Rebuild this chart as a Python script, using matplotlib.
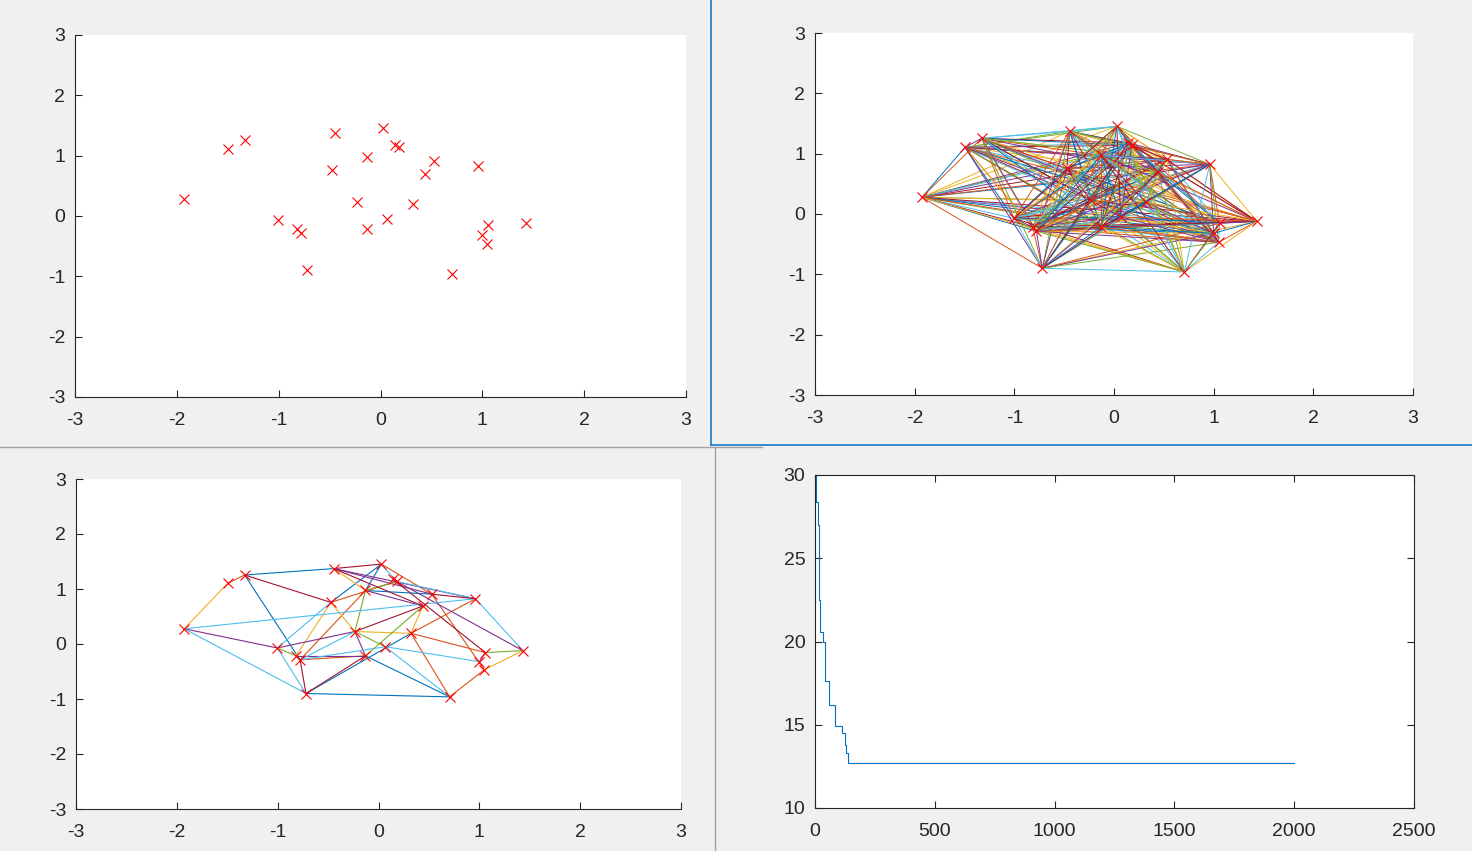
import numpy as np
import matplotlib
matplotlib.use('Agg')
import matplotlib.pyplot as plt
from matplotlib.lines import Line2D

# city coordinates
xs = [-1.927, -1.495, -1.328, -0.444, -0.473, -0.234, -1.004, -0.817, -0.778, -0.719,
      0.028, 0.145, 0.179, -0.129, 0.528, 0.440, 0.961, 0.322, 0.067, -0.129,
      1.059, 1.432, 1.000, 1.049, 0.705]
ys = [0.277, 1.105, 1.255, 1.371, 0.757, 0.227, -0.072, -0.215, -0.287, -0.900,
      1.453, 1.177, 1.138, 0.973, 0.906, 0.691, 0.823, 0.194, -0.050, -0.215,
      -0.155, -0.121, -0.320, -0.469, -0.961]

# kept edges of the reduced graph, one list per plotted group (1-based point ids)
edges_1 = [(3, 4), (3, 9), (11, 5), (14, 15), (10, 25), (20, 25), (10, 18), (11, 14)]
edges_2 = [(2, 3), (11, 15), (15, 24), (18, 25), (24, 25), (18, 21), (18, 17), (9, 20),
           (9, 14), (5, 13)]
edges_3 = [(1, 2), (4, 14), (5, 6), (5, 8), (6, 18), (16, 18), (22, 24)]
edges_4 = [(1, 7), (7, 6), (6, 20), (8, 20), (4, 15), (4, 17), (13, 22), (14, 16), (21, 23)]
edges_5 = [(7, 8), (6, 19), (14, 6), (20, 16), (21, 22), (14, 13)]
edges_6 = [(1, 17), (1, 10), (7, 10), (7, 5), (19, 23), (19, 25), (17, 22), (11, 13),
           (13, 17), (9, 6), (9, 19)]
edges_7 = [(3, 5), (9, 10), (10, 20), (6, 16), (4, 11), (15, 17), (12, 21), (4, 16)]

# best tour length per iteration (change points)
iter_pts = [0, 3, 13, 18, 21, 33, 40, 58, 83, 112, 127, 131, 138, 2000]
best_len = [30.0, 28.4, 27.0, 22.5, 20.6, 20.0, 17.6, 16.2, 14.9, 14.5, 13.8, 13.3, 12.7, 12.7]

MATLAB_COLORS = ['#0072BD', '#D95319', '#EDB120', '#7E2F8E', '#77AC30', '#4DBEEE', '#A2142F']
AX_COL = '#262626'

plt.rcParams['font.family'] = ['Liberation Sans', 'DejaVu Sans']
plt.rcParams['font.size'] = 14
plt.rcParams['axes.unicode_minus'] = False

W, H = 1472, 851
fig = plt.figure(figsize=(W / 100, H / 100), dpi=100, facecolor='#F0F0F0')


def px_axes(l, t, r, b):
    return fig.add_axes([l / W, 1 - b / H, (r - l) / W, (b - t) / H])


def style(ax, box=False):
    ax.set_facecolor('white')
    for s in ['left', 'bottom', 'top', 'right']:
        ax.spines[s].set_color(AX_COL)
        ax.spines[s].set_linewidth(0.8)
    if not box:
        ax.spines['top'].set_visible(False)
        ax.spines['right'].set_visible(False)
    ax.tick_params(direction='in', length=5, width=0.8, colors=AX_COL,
                   top=box, right=box, labelsize=14)
    ax.tick_params(axis='x', pad=11)
    ax.tick_params(axis='y', pad=7)


def city_axes(ax):
    ax.set_xlim(-3, 3)
    ax.set_ylim(-3, 3)
    ax.set_xticks(range(-3, 4))
    ax.set_yticks(range(-3, 4))
    style(ax)


def markers(ax):
    ax.plot(xs, ys, 'x', color='red', markersize=6.5, markeredgewidth=0.8, zorder=5)


# (1) cities
ax1 = px_axes(75, 35, 686, 397)
markers(ax1)
city_axes(ax1)

# (2) complete graph
ax2 = px_axes(815, 33, 1413, 395)
k = 0
n = len(xs)
for i in range(n):
    for j in range(i + 1, n):
        ax2.plot([xs[i], xs[j]], [ys[i], ys[j]], color=MATLAB_COLORS[k % 7], lw=0.7)
        k += 1
markers(ax2)
city_axes(ax2)

# (3) reduced graph
ax3 = px_axes(76, 479, 681, 809)
for g, group in enumerate([edges_1, edges_2, edges_3, edges_4, edges_5, edges_6, edges_7]):
    for a, b in group:
        ax3.plot([xs[a - 1], xs[b - 1]], [ys[a - 1], ys[b - 1]], color=MATLAB_COLORS[g], lw=0.8)
markers(ax3)
city_axes(ax3)

# (4) convergence
ax4 = px_axes(815, 475, 1414, 808)
ax4.plot(iter_pts, best_len, drawstyle='steps-post', color=MATLAB_COLORS[0], lw=0.8)
ax4.set_xlim(0, 2500)
ax4.set_ylim(10, 30)
ax4.set_xticks(range(0, 2501, 500))
ax4.set_yticks(range(10, 31, 5))
style(ax4, box=True)


# window borders of the tiled screenshot
def fig_line(x0, y0, x1, y1, color, lw=1.0):
    fig.add_artist(Line2D([x0 / W, x1 / W], [1 - y0 / H, 1 - y1 / H],
                          transform=fig.transFigure, color=color, lw=lw))


fig_line(0, 447, 762, 447, '#A0A0A0')
fig_line(715, 447, 715, H, '#A0A0A0')
fig_line(711, 0, 711, 445, '#1979CA', 1.2)
fig_line(711, 445, W, 445, '#1979CA', 1.2)

fig.savefig('out.png', dpi=100, facecolor=fig.get_facecolor())
